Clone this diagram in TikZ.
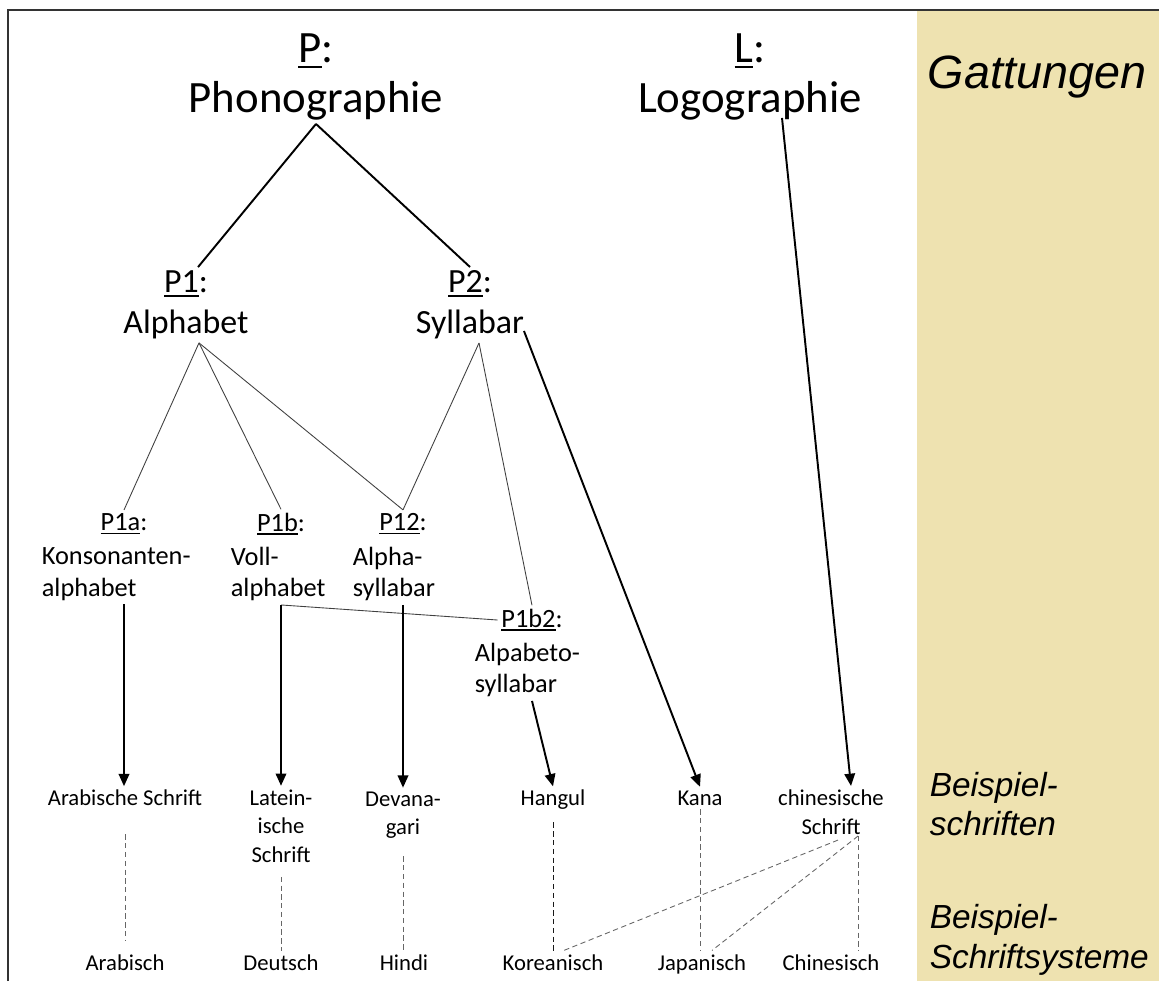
\documentclass[tikz,border=0pt]{standalone}
\usepackage{fontspec}
\setmainfont{Carlito}
\newfontfamily\arialfont{Liberation Sans}
\usetikzlibrary{positioning,arrows.meta,calc}
\definecolor{panel}{RGB}{238,226,176}
\newcommand{\ulbl}[1]{\leavevmode\setbox0=\hbox{#1}\rlap{\rule[-0.13em]{\wd0}{0.06em}}\box0}

\begin{document}
\begin{tikzpicture}[x=0.02cm, y=-0.02cm, inner sep=2pt,
      top/.style={font=\fontsize{25.5}{28.3}\selectfont, align=center},
      mid/.style={font=\fontsize{19.3}{23.2}\selectfont, align=center},
      sub/.style={font=\fontsize{15}{18}\selectfont},
      leaf/.style={font=\fontsize{12.9}{16.2}\selectfont, align=center},
      side/.style={font=\arialfont\itshape\fontsize{19}{22.7}\selectfont, align=left, anchor=west},
      branch/.style={line width=1.1pt},
      twig/.style={line width=0.5pt, black!75},
      arr/.style={line width=1.1pt, -{Triangle[length=7pt,width=6pt]}},
      dsh/.style={line width=0.5pt, black!60, dash pattern=on 3pt off 2pt}]
      \useasboundingbox (0,0) rectangle (1159,981);
      \fill[panel] (917,11) rectangle (1159,981);
      \draw[line width=1.4pt, black!80] (8,981) -- (8,10) -- (1159,10);
      % Gattungen
      \node[top] (phono) at (316,77) {\ulbl{P}:\\Phonographie};
      \node[top] (logo) at (750,77) {\ulbl{L}:\\Logographie};
      \node[side, font=\arialfont\itshape\fontsize{26.6}{30}\selectfont] (gatt) at (924,77) {Gattungen};
      \node[mid] (p1) at (186,305) {\ulbl{P1}:\\Alphabet};
      \node[mid] (p2) at (470,305) {\ulbl{P2}:\\Syllabar};
      \node[sub] (p1a) at (124,524) {\ulbl{P1a}:};
      \node[sub, align=left, anchor=west] (p1a text) at (38,574) {Konsonanten-\\alphabet};
      \node[sub] (p1b) at (281,524) {\ulbl{P1b}:};
      \node[sub, align=left, anchor=west] (p1b text) at (227,574) {Voll-\\alphabet};
      \node[sub] (p12) at (403,524) {\ulbl{P12}:};
      \node[sub, align=left, anchor=west] (p12 text) at (349,574) {Alpha-\\syllabar};
      \node[sub] (p1b2) at (532,620) {\ulbl{P1b2}:};
      \node[sub, align=left, anchor=west] (p1b2 text) at (471,670) {Alpabeto-\\syllabar};
      % Beispielschriften
      \node[leaf] (arab) at (125,798) {Arabische Schrift};
      \node[leaf] (latein) at (281,826) {Latein-\\ische\\Schrift};
      \node[leaf] (devana) at (403,815) {Devana-\\gari};
      \node[leaf] (hangul) at (553,800) {Hangul};
      \node[leaf] (kana) at (700,798) {Kana};
      \node[leaf] (chin) at (831,812) {chinesische\\Schrift};
      \node[side] (bsp1) at (926,804) {Beispiel-\\schriften};
      % Schriftsysteme
      \node[leaf] (arabisch) at (125,963) {Arabisch};
      \node[leaf] (deutsch) at (281,963) {Deutsch};
      \node[leaf] (hindi) at (404,963) {Hindi};
      \node[leaf] (korea) at (553,963) {Koreanisch};
      \node[leaf] (japan) at (702,964) {Japanisch};
      \node[leaf] (china) at (831,963) {Chinesisch};
      \node[side] (bsp2) at (926,940) {Beispiel-\\Schriftsysteme};
      \coordinate (p1 top) at ($(p1.north)+(12,0)$);
      \coordinate (p1 fork) at ($(p1.south)+(13,0)$);
      \coordinate (p2 fork) at ($(p2.south)+(9,0)$);
      \coordinate (cjk) at ($(chin.south)+(27,-2)$);
      \draw[branch] (phono.south) -- (p1 top);
      \draw[branch] (phono.south) -- (p2.north);
      \draw[arr] ($(logo.south)+(32,-6)$) -- ($(chin.north)+(20,0)$);
      \draw[twig] (p1 fork) -- (p1a.north);
      \draw[twig] (p1 fork) -- (p1b.north);
      \draw[twig] (p1 fork) -- (p12.north);
      \draw[twig] (p2 fork) -- (p12.north);
      \draw[twig] (p2 fork) -- (p1b2.north);
      \draw[twig] (p1b |- p1b text.south) -- (p1b2.west);
      \draw[arr] ($(p2.south east)+(-4,-12)$) -- (kana.north);
      \draw[arr] (p1a |- p1a text.south) -- (p1a |- arab.north);
      \draw[arr] (p1b |- p1b text.south) -- (p1b |- latein.north);
      \draw[arr] (p12 |- p12 text.south) -- (p12 |- devana.north);
      \draw[arr] (p1b2 |- p1b2 text.south) -- (hangul.north);
      \draw[dsh, shorten <=14pt, shorten >=6pt] (arab.south) -- (arabisch.north);
      \draw[dsh, shorten <=6pt] (latein.south) -- (deutsch.north);
      \draw[dsh, shorten <=8pt] (devana.south) -- (devana |- hindi.north);
      \draw[dsh, shorten <=5pt, black!90] (hangul.south) -- (korea.north);
      \draw[dsh] (kana.south) -- (kana |- japan.north);
      \draw[dsh] (cjk) -- (cjk |- china.north);
      \draw[dsh] ($(cjk)+(-20,4)$) -- ($(korea.north)+(9,0)$);
      \draw[dsh] (cjk) -- ($(japan.north)+(10,0)$);
    \end{tikzpicture}
\end{document}
